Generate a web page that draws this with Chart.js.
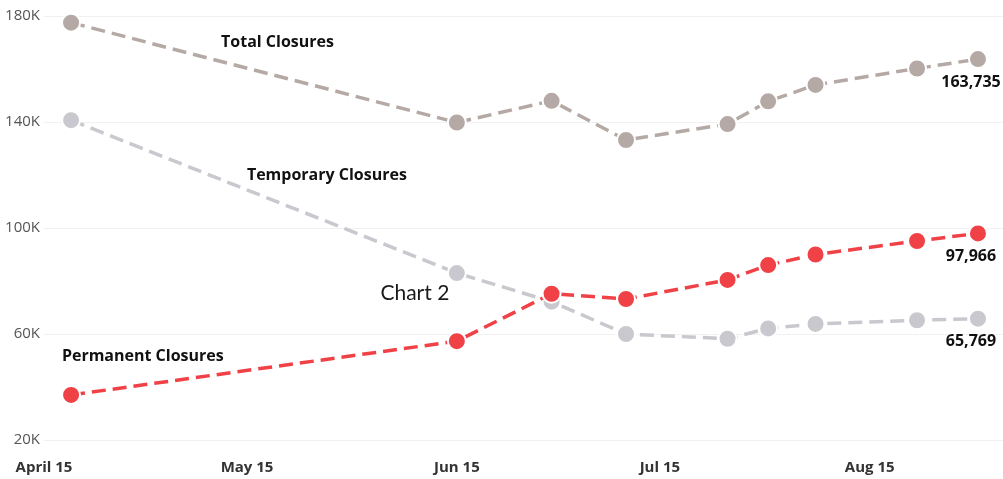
<!DOCTYPE html>
<html><head><meta charset="utf-8">
<script src="https://cdn.jsdelivr.net/npm/chart.js@4/dist/chart.umd.min.js"></script>
<style>html,body{margin:0;padding:0;background:#fff;overflow:hidden}#wrap{width:1003px;height:479px;position:relative}</style>
</head><body><div id="wrap"><canvas id="c"></canvas></div>
<script>
// Dates of each observation and their offset in days from April 15
const dates = ['Apr 19','Jun 15','Jun 29','Jul 10','Jul 25','Jul 31','Aug 7','Aug 21','Aug 31'];
const dayOffsets = [4, 61, 75, 86, 101, 107, 114, 129, 138];
const totalClosures     = [177500, 139800, 148000, 133200, 139200, 147800, 154000, 160200, 163735];
const temporaryClosures = [140700, 83000, 72200, 60000, 58200, 62100, 63800, 65200, 65769];
const permanentClosures = [37000, 57300, 75200, 73200, 80400, 86000, 90000, 95100, 97966];
const xTickDays   = [0, 30, 61, 91, 122];
const xTickLabels = ['April 15', 'May 15', 'Jun 15', 'Jul 15', 'Aug 15'];
const yTickValues = [20000, 60000, 100000, 140000, 180000];
const seriesNames = ['Permanent Closures', 'Temporary Closures', 'Total Closures'];
const chartTitle  = 'Chart 2';

const colors = { total: '#b4a9a5', temp: '#c9c8ce', perm: '#ef4146' };
const pts = arr => arr.map((v, i) => ({ x: dayOffsets[i], y: v }));
const fmt = v => v.toLocaleString('en-US');

const annotations = {
  id: 'annotations',
  afterDatasetsDraw(chart) {
    const { ctx, scales: { x, y } } = chart;
    ctx.save();
    ctx.textAlign = 'center';
    ctx.textBaseline = 'middle';
    ctx.fillStyle = '#111';
    ctx.font = 'bold 16px "Open Sans"';
    ctx.fillText(seriesNames[2], x.getPixelForValue(34.5), y.getPixelForValue(170200));
    ctx.fillText(seriesNames[1], x.getPixelForValue(41.8), y.getPixelForValue(120000));
    ctx.fillText(seriesNames[0], x.getPixelForValue(14.6), y.getPixelForValue(51700));
    // end value labels under the last point
    const last = dayOffsets.length - 1;
    [totalClosures, permanentClosures, temporaryClosures].forEach(arr => {
      const px = x.getPixelForValue(dayOffsets[last]);
      const py = y.getPixelForValue(arr[last]);
      ctx.fillText(fmt(arr[last]), px - 7, py + 23);
    });
    ctx.font = '21px Lato';
    ctx.fillStyle = '#1a1a1a';
    ctx.fillText(chartTitle, x.getPixelForValue(54.8), y.getPixelForValue(75500));
    ctx.restore();
  }
};

const common = { borderWidth: 3.5, borderDash: [14, 7], pointRadius: 9, pointHoverRadius: 9,
  pointBorderColor: '#fff', pointBorderWidth: 2, fill: false, tension: 0, clip: false };

new Chart(document.getElementById('c'), {
  type: 'line',
  data: {
    datasets: [
      Object.assign({ label: seriesNames[0], data: pts(permanentClosures), borderColor: colors.perm, pointBackgroundColor: colors.perm }, common),
      Object.assign({ label: seriesNames[1], data: pts(temporaryClosures), borderColor: colors.temp, pointBackgroundColor: colors.temp }, common),
      Object.assign({ label: seriesNames[2], data: pts(totalClosures), borderColor: colors.total, pointBackgroundColor: colors.total }, common)
    ]
  },
  options: {
    responsive: true, maintainAspectRatio: false, animation: false,
    layout: { autoPadding: false, padding: { top: 16, right: 0, bottom: 4, left: 0 } },
    plugins: { legend: { display: false }, tooltip: { enabled: false } },
    scales: {
      x: {
        type: 'linear', min: 0, max: 141.7,
        afterBuildTicks: s => { s.ticks = xTickDays.map(v => ({ value: v })); },
        afterFit: s => { s.height = 35; },
        grid: { display: false }, border: { display: false },
        ticks: { autoSkip: false, maxRotation: 0, padding: 11, color: '#333',
          font: { family: '"Open Sans"', size: 15, weight: 'bold' },
          callback: v => xTickLabels[xTickDays.indexOf(v)] }
      },
      y: {
        min: 20000, max: 180000,
        afterBuildTicks: s => { s.ticks = yTickValues.map(v => ({ value: v })); },
        afterFit: s => { s.width = 44; },
        grid: { color: '#f1f1f1', drawTicks: false, lineWidth: 1 }, border: { display: false },
        ticks: { padding: 4, color: '#555', font: { family: '"Open Sans"', size: 15 },
          callback: v => (v / 1000) + 'K' }
      }
    }
  },
  plugins: [annotations]
});
</script>
</body></html>
